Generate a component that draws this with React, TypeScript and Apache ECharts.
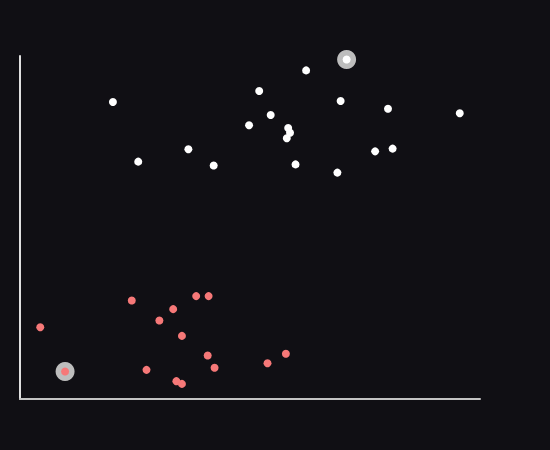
import React, { useEffect, useRef } from "react";
import * as echarts from "echarts";

const whitePoints: [number, number][] = [
  [20.2, 86.6], [25.7, 69.2], [36.6, 72.8], [42.1, 68.1], [49.8, 79.8],
  [52.0, 89.8], [54.5, 82.8], [58.3, 79.0], [58.7, 77.6], [58.0, 76.0],
  [59.9, 68.4], [62.2, 95.8], [69.7, 86.9], [69.0, 66.0], [77.2, 72.2],
  [80.0, 84.6], [81.0, 73.0], [95.6, 83.3], [71.0, 99.0],
];
const redPoints: [number, number][] = [
  [4.4, 20.9], [24.3, 28.7], [30.3, 22.9], [33.3, 26.2], [35.2, 18.4],
  [38.3, 30.0], [41.0, 30.0], [40.8, 12.7], [42.3, 9.1], [27.5, 8.5],
  [34.0, 5.2], [35.2, 4.4], [53.8, 10.4], [57.8, 13.2], [9.8, 8.0],
];
const highlighted: [number, number][] = [
  [71.0, 99.0],
  [9.8, 8.0],
];

export default function App() {
  const ref = useRef<HTMLDivElement>(null);
  useEffect(() => {
    if (!ref.current) return;
    const chart = echarts.init(ref.current, null, { renderer: "svg" });
    chart.setOption({
      animation: false,
      backgroundColor: "#100f14",
      grid: { left: 20, right: 70, top: 56, bottom: 51 },
      xAxis: {
        type: "value",
        min: 0,
        max: 100,
        axisLine: { show: true, onZero: false, lineStyle: { color: "#c4c4c4", width: 2 } },
        axisTick: { show: false },
        axisLabel: { show: false },
        splitLine: { show: false },
      },
      yAxis: {
        type: "value",
        min: 0,
        max: 100,
        axisLine: { show: true, onZero: false, lineStyle: { color: "#e0e0e0", width: 2 } },
        axisTick: { show: false },
        axisLabel: { show: false },
        splitLine: { show: false },
      },
      series: [
        {
          type: "scatter",
          data: highlighted,
          symbolSize: 19,
          itemStyle: { color: "#bdbdbd", opacity: 1 },
          z: 1,
        },
        {
          type: "scatter",
          data: whitePoints,
          symbolSize: 8,
          itemStyle: { color: "#ffffff", opacity: 1 },
          z: 2,
        },
        {
          type: "scatter",
          data: redPoints,
          symbolSize: 8,
          itemStyle: { color: "#f67878", opacity: 1 },
          z: 2,
        },
      ],
    });
    return () => chart.dispose();
  }, []);
  return (
    <div
      ref={ref}
      style={{ position: "fixed", left: 0, top: 0, width: 550, height: 450, background: "#100f14" }}
    />
  );
}
